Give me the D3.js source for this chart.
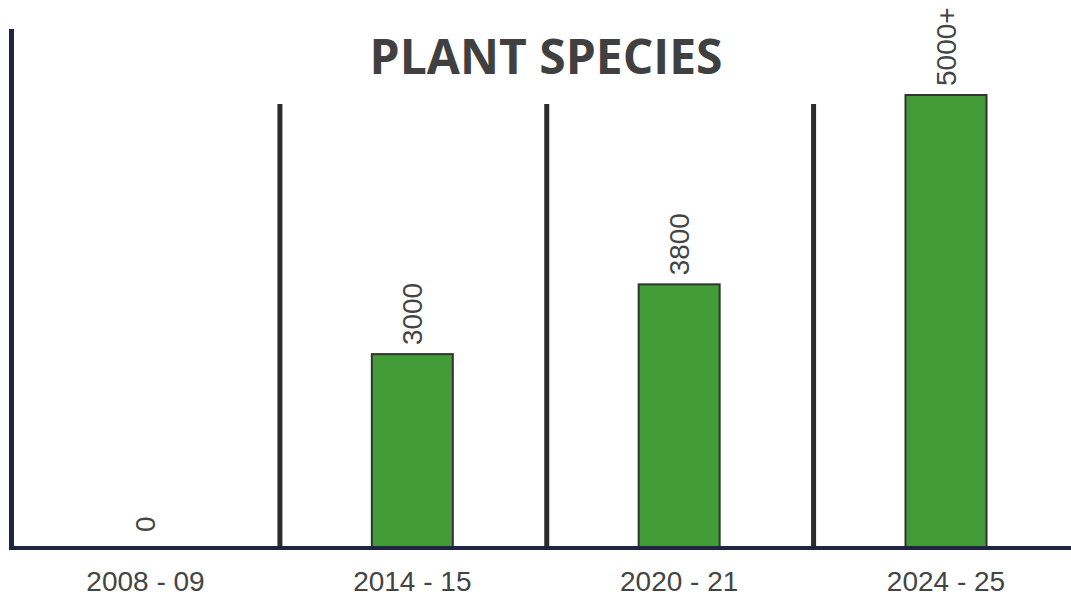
<!DOCTYPE html>
<html>
<head>
<meta charset="utf-8">
<script src="https://cdn.jsdelivr.net/npm/d3@7"></script>
<style>
  html, body { margin: 0; padding: 0; background: #fff; }
  svg { display: block; }
</style>
</head>
<body>
<div id="chart"></div>
<script>
const categories = ["2008 - 09", "2014 - 15", "2020 - 21", "2024 - 25"];
const values = [0, 3000, 3800, 5000];
const valueLabels = ["0", "3000", "3800", "5000+"];
const title = "PLANT SPECIES";

const width = 1071;
const height = 597;
const baseY = 548;
const topY = 95;

const svg = d3.select("#chart")
    .append("svg")
    .attr("width", width)
    .attr("height", height);

// column centres
const x = d3.scalePoint()
    .domain(categories)
    .range([145.5, 946]);

// the bars in the poster are not to a linear scale, so the y scale is piecewise
const y = d3.scaleLinear()
    .domain([0, 3000, 3800, 5000])
    .range([0, 0.428, 0.582, 1].map(f => baseY - f * (baseY - topY)));

const barW = 81;

// separators half way between columns
svg.selectAll(".sep")
    .data(categories.slice(1))
    .enter().append("line")
    .attr("class", "sep")
    .attr("x1", (d, i) => (x(categories[i]) + x(d)) / 2 + 1)
    .attr("x2", (d, i) => (x(categories[i]) + x(d)) / 2 + 1)
    .attr("y1", 104)
    .attr("y2", baseY)
    .attr("stroke", "#2b2b2b")
    .attr("stroke-width", 5);

// bars
svg.selectAll(".bar")
    .data(values)
    .enter().append("rect")
    .attr("class", "bar")
    .attr("x", (d, i) => x(categories[i]) - barW / 2)
    .attr("y", d => y(d))
    .attr("width", barW)
    .attr("height", d => baseY - y(d))
    .attr("fill", "#439c37")
    .attr("stroke", "#333")
    .attr("stroke-width", 2)
    .style("display", d => d > 0 ? null : "none");

// value labels, rotated
svg.selectAll(".val")
    .data(values)
    .enter().append("text")
    .attr("class", "val")
    .attr("transform", (d, i) => {
        const cx = x(categories[i]);
        const ty = d > 0 ? y(d) - 9 : y(d) - 16;
        return `translate(${cx},${ty}) rotate(-90)`;
    })
    .attr("dy", "0.35em")
    .attr("font-family", "'Liberation Sans', Arial, sans-serif")
    .attr("font-size", 28)
    .attr("fill", "#444")
    .text((d, i) => valueLabels[i]);

// axes lines
svg.append("line")
    .attr("x1", 9).attr("x2", width)
    .attr("y1", baseY).attr("y2", baseY)
    .attr("stroke", "#1e2540")
    .attr("stroke-width", 4);

svg.append("line")
    .attr("x1", 11.5).attr("x2", 11.5)
    .attr("y1", 29).attr("y2", baseY + 2)
    .attr("stroke", "#1e2540")
    .attr("stroke-width", 5);

// category labels
svg.selectAll(".cat")
    .data(categories)
    .enter().append("text")
    .attr("class", "cat")
    .attr("x", d => x(d))
    .attr("y", 591)
    .attr("text-anchor", "middle")
    .attr("font-family", "'Liberation Sans', Arial, sans-serif")
    .attr("font-size", 28)
    .attr("fill", "#444")
    .text(d => d);

svg.append("text")
    .attr("x", 546)
    .attr("y", 73.5)
    .attr("text-anchor", "middle")
    .attr("font-family", "'Open Sans', sans-serif")
    .attr("font-weight", 700)
    .attr("font-size", 48)
    .attr("fill", "#404040")
    .text(title);
</script>
</body>
</html>
